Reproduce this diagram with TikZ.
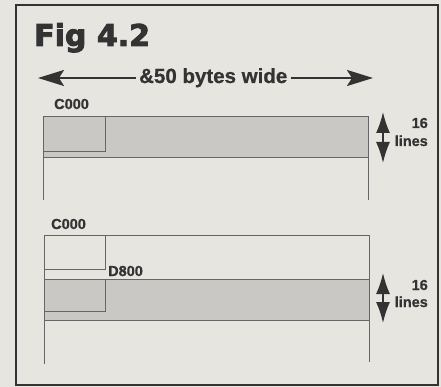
\documentclass[tikz,border=0pt]{standalone}
\usepackage{fontspec}
\setmainfont{Liberation Sans}[BoldFeatures={FakeBold=0.8}]
\newfontfamily\titlefont{DejaVu Sans}[BoldFeatures={FakeBold=3}]
\usetikzlibrary{arrows.meta}
\definecolor{paper}{HTML}{E7E5E0}
\definecolor{band}{HTML}{CAC8C4}
\definecolor{ink}{HTML}{333333}
\definecolor{rule}{HTML}{666666}
\tikzset{
  lbl/.style={inner sep=0pt, text=ink, font=\fontsize{14.5}{15}\selectfont\bfseries},
  thin/.style={draw=rule, line width=0.9pt},
  bandbox/.style={thin, fill=band},
  harrow/.style={draw=ink, line width=2.2pt, -{Stealth[length=26pt,width=16pt,inset=5pt]}},
  varrow/.style={draw=ink, line width=1.6pt, {Latex[length=21pt,width=14pt]}-{Latex[length=21pt,width=14pt]}}
}
\begin{document}
\begin{tikzpicture}[x=1pt,y=-1pt]
\useasboundingbox (0,0) rectangle (441,387);
\fill[paper] (0,0) rectangle (441,387);
\draw[draw=ink, line width=2.5pt] (16,5) rectangle (438,385);
% title
\node[inner sep=0pt, anchor=base west, text=ink, font=\titlefont\fontsize{30}{30}\selectfont\bfseries] (title) at (34,46) {Fig 4.2};
% width label
\node[inner sep=3pt, anchor=base west, text=ink, font=\fontsize{20.5}{21}\selectfont\bfseries] (wlabel) at (136,83) {\&50 bytes wide};
\coordinate (la) at (38,78);
\coordinate (ra) at (373,78);
\draw[harrow] (wlabel.west |- la) -- (la);
\draw[harrow] (wlabel.east |- ra) -- (ra);
% top section
\node[lbl, anchor=base west] (c1) at (54,109) {C000};
\draw[bandbox] (43,116) rectangle (368,157);
\draw[thin] (43,116) rectangle (105,151);
\draw[thin] (43,157) -- (43,200);
\draw[thin] (368,157) -- (368,200);
\coordinate (t1) at (383,112);
\coordinate (b1) at (383,163);
\draw[varrow] (t1) -- (b1);
\node[lbl, anchor=base east] (n1) at (428,128) {16};
\node[lbl, anchor=base east] (l1) at (428,146) {lines};
% bottom section
\node[lbl, anchor=base west] (c2) at (51,229) {C000};
\draw[thin] (44,364) -- (44,235) -- (369,235) -- (369,362);
\draw[thin] (44,235) rectangle (105,269);
\draw[bandbox] (44,279) rectangle (369,320);
\draw[thin] (44,279) rectangle (105,311);
\node[lbl, anchor=base west] (d2) at (108,276) {D800};
\coordinate (t2) at (383,273);
\coordinate (b2) at (383,323);
\draw[varrow] (t2) -- (b2);
\node[lbl, anchor=base east] (n2) at (428,290) {16};
\node[lbl, anchor=base east] (l2) at (428,307) {lines};
\end{tikzpicture}
\end{document}
